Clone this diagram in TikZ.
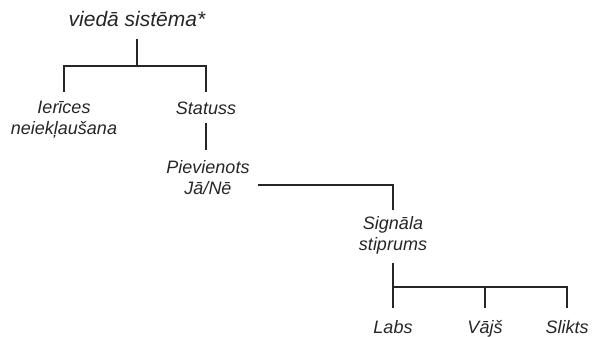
\documentclass[tikz,border=0pt]{standalone}
\usepackage{fontspec}
\setmainfont{Liberation Sans}
\begin{document}
\begin{tikzpicture}[x=1pt,y=-1pt,
  conn/.style={line width=1.6pt, draw=black!85},
  lbl/.style={font=\itshape\fontsize{18}{21}\selectfont, text=black!85, align=center, inner sep=0pt, anchor=base},
  ttl/.style={font=\itshape\fontsize{21}{24}\selectfont, text=black!85, inner sep=0pt, anchor=base}]
\useasboundingbox (0,0) rectangle (592,337);
\node[ttl] (root) at (137,27) {viedā sistēma*};
\node[lbl] (ier) at (64,135) {Ierīces\\neiekļaušana};
\node[lbl] (stat) at (206,114) {Statuss};
\node[lbl] (piev) at (208,194) {Pievienots\\Jā/Nē};
\node[lbl] (sig) at (393,250) {Signāla\\stiprums};
\node[lbl] (labs) at (393,333) {Labs};
\node[lbl] (vajs) at (485,333) {Vājš};
\node[lbl] (slik) at (567,333) {Slikts};
\coordinate (p1) at (258,185);
\draw[conn] (root.south |- 0,39) -- (root.south |- 0,66);
\draw[conn] (ier.north |- 0,92) |- (stat.north |- 0,66) -- (stat.north |- 0,92);
\draw[conn] (stat.south |- 0,123) -- (stat.south |- 0,150);
\draw[conn] (p1) -| (sig.north |- 0,210);
\draw[conn] (sig.south |- 0,263) -- (sig.south |- 0,287) -| (slik.north |- 0,308);
\draw[conn] (labs.north |- 0,287) -- (labs.north |- 0,308);
\draw[conn] (vajs.north |- 0,287) -- (vajs.north |- 0,308);
\end{tikzpicture}
\end{document}
